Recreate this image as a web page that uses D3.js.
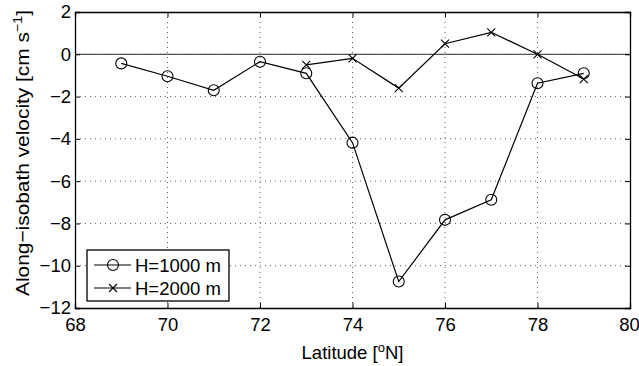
<!DOCTYPE html>
<html>
<head>
<meta charset="utf-8">
<script src="https://cdn.jsdelivr.net/npm/d3@7"></script>
<style>
body { margin: 0; background: #fff; }
text { font-family: "Liberation Sans", Arial, sans-serif; }
</style>
</head>
<body>
<div id="chart"></div>
<script>
let lat1000 = [69, 70, 71, 72, 73, 74, 75, 76, 77, 78, 79];
let vel1000 = [-0.43, -1.04, -1.7, -0.35, -0.9, -4.18, -10.75, -7.83, -6.88, -1.37, -0.9];
let lat2000 = [73, 74, 75, 76, 77, 78, 79];
let vel2000 = [-0.5, -0.19, -1.6, 0.5, 1.04, 0.0, -1.17];
let xTicks = [68, 70, 72, 74, 76, 78, 80];
let yTicks = [2, 0, -2, -4, -6, -8, -10, -12];

let width = 639, height = 366;
let margin = {top: 12, right: 9, bottom: 58, left: 75};
let w = width - margin.left - margin.right,
    h = height - margin.top - margin.bottom;
let fs = 18.5;

let svg = d3.select("#chart").append("svg")
    .attr("width", width)
    .attr("height", height);

let g = svg.append("g")
    .attr("transform", "translate(" + margin.left + "," + margin.top + ")");

let x = d3.scaleLinear().domain([68, 80]).range([0, w]);
let y = d3.scaleLinear().domain([-12, 2]).range([h, 0]);

// dotted grid
g.selectAll(".gx")
    .data(xTicks.slice(1, -1))
    .enter().append("line")
    .attr("x1", d => x(d)).attr("x2", d => x(d))
    .attr("y1", 0).attr("y2", h)
    .attr("stroke", "#333").attr("stroke-width", 0.8)
    .attr("stroke-dasharray", "1,4");

g.selectAll(".gy")
    .data(yTicks.slice(1, -1))
    .enter().append("line")
    .attr("y1", d => y(d)).attr("y2", d => y(d))
    .attr("x1", 0).attr("x2", w)
    .attr("stroke", "#333").attr("stroke-width", 0.8)
    .attr("stroke-dasharray", "1,4");

// zero line
g.append("line")
    .attr("x1", 0).attr("x2", w)
    .attr("y1", y(0)).attr("y2", y(0))
    .attr("stroke", "#555").attr("stroke-width", 1.3);

// axes (ticks inward, box on all sides)
let axB = d3.axisBottom(x).tickValues(xTicks).tickSize(-5).tickPadding(10).tickFormat(d3.format("d"));
let axT = d3.axisTop(x).tickValues(xTicks).tickSize(-5).tickFormat("");
let axL = d3.axisLeft(y).tickValues(yTicks).tickSize(-5).tickPadding(4)
    .tickFormat(d => d < 0 ? "\u2212" + Math.abs(d) : d);
let axR = d3.axisRight(y).tickValues(yTicks).tickSize(-5).tickFormat("");

function styleAxis(sel) {
    sel.selectAll("path").attr("stroke", "#000").attr("stroke-width", 1.3);
    sel.selectAll("line").attr("stroke", "#000").attr("stroke-width", 1);
    sel.selectAll("text").attr("font-size", fs).attr("fill", "#000")
        .style("font-family", "'Liberation Sans', Arial, sans-serif");
}

let gB = g.append("g").attr("transform", "translate(0," + h + ")").call(axB).call(styleAxis);
g.append("g").call(axT).call(styleAxis);
g.append("g").call(axL).call(styleAxis);
g.append("g").attr("transform", "translate(" + w + ",0)").call(axR).call(styleAxis);

// last x label sits right at the window edge; nudge it in
gB.selectAll(".tick text").filter(d => d === 80).attr("dx", -1);

// series
let data1000 = lat1000.map((d, i) => ({lat: d, v: vel1000[i]}));
let data2000 = lat2000.map((d, i) => ({lat: d, v: vel2000[i]}));

let line = d3.line().x(d => x(d.lat)).y(d => y(d.v));

g.append("path").datum(data1000)
    .attr("d", line).attr("fill", "none")
    .attr("stroke", "#000").attr("stroke-width", 1.2);

g.append("path").datum(data2000)
    .attr("d", line).attr("fill", "none")
    .attr("stroke", "#000").attr("stroke-width", 1.2);

g.selectAll(".c1000")
    .data(data1000)
    .enter().append("circle")
    .attr("cx", d => x(d.lat)).attr("cy", d => y(d.v))
    .attr("r", 5.5)
    .attr("fill", "none").attr("stroke", "#000").attr("stroke-width", 1.1);

let cross = function(sel, cx, cy) {
    let s = 4;
    sel.append("path")
        .attr("d", "M" + (cx - s) + "," + (cy - s) + "L" + (cx + s) + "," + (cy + s) +
                   "M" + (cx - s) + "," + (cy + s) + "L" + (cx + s) + "," + (cy - s))
        .attr("stroke", "#000").attr("stroke-width", 1.1);
};

data2000.forEach(d => cross(g, x(d.lat), y(d.v)));

// legend
let leg = g.append("g").attr("transform", "translate(12,238)");
leg.append("rect")
    .attr("width", 142).attr("height", 51)
    .attr("fill", "#fff").attr("stroke", "#000").attr("stroke-width", 1.3);

let legItems = ["H=1000 m", "H=2000 m"];
legItems.forEach((name, i) => {
    let ly = 15 + i * 23;
    leg.append("line")
        .attr("x1", 7).attr("x2", 44)
        .attr("y1", ly).attr("y2", ly)
        .attr("stroke", "#000").attr("stroke-width", 1.1);
    if (i === 0) {
        leg.append("circle").attr("cx", 26).attr("cy", ly).attr("r", 5.5)
            .attr("fill", "none").attr("stroke", "#000").attr("stroke-width", 1.1);
    } else {
        cross(leg, 26, ly);
    }
    leg.append("text")
        .attr("x", 48).attr("y", ly + 7)
        .attr("font-size", fs)
        .text(name);
});

// axis titles
let xl = svg.append("text")
    .attr("x", margin.left + w / 2).attr("y", 359)
    .attr("text-anchor", "middle")
    .attr("font-size", fs);
xl.append("tspan").text("Latitude [");
xl.append("tspan").attr("font-size", 13).attr("dy", -7).text("o");
xl.append("tspan").attr("dy", 7).text("N]");

let yl = svg.append("text")
    .attr("transform", "translate(29,153) rotate(-90)")
    .attr("text-anchor", "middle")
    .attr("font-size", 19)
    .attr("textLength", 286)
    .attr("lengthAdjust", "spacingAndGlyphs");
yl.append("tspan").text("Along\u2212isobath velocity [cm s");
yl.append("tspan").attr("font-size", 13).attr("dy", -7).text("\u22121");
yl.append("tspan").attr("dy", 7).text("]");
</script>
</body>
</html>
